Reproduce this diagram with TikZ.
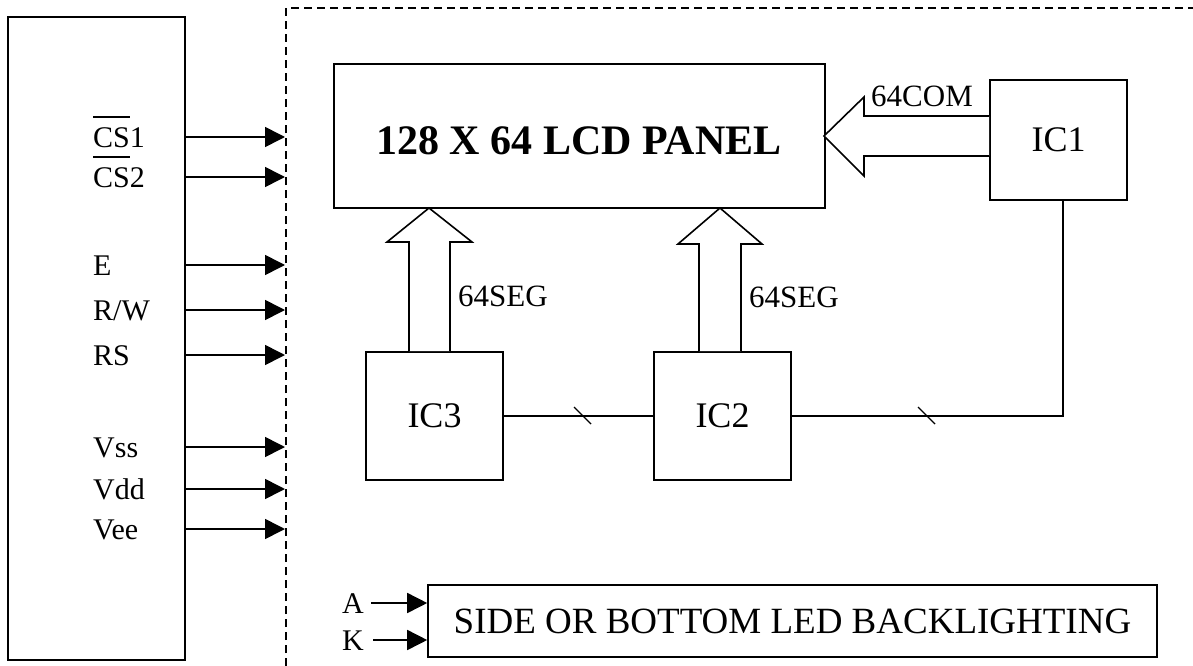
\documentclass[tikz,border=0pt]{standalone}
\usepackage{fontspec}
\setmainfont{Liberation Serif}
\usetikzlibrary{arrows.meta}
\newlength\olw
\newcommand\olbar[1]{\settowidth\olw{#1}\rlap{\rule[0.98em]{\olw}{0.06em}}#1}
\tikzset{
  box/.style={draw, line width=1.6pt, inner sep=0pt, rectangle},
  sig/.style={line width=1.6pt, -{Triangle[length=20pt,width=20pt]}},
  siglabel/.style={anchor=base west, inner sep=0pt, font=\fontsize{30}{36}\selectfont},
  fat/.style={draw, line width=1.6pt, fill=white, line join=miter},
  bus/.style={line width=1.6pt},
}
\begin{document}
\begin{tikzpicture}[x=1pt,y=-1pt]
\useasboundingbox (0,0) rectangle (1193,666);
% host box
\node[box, minimum width=177pt, minimum height=643pt] (host) at (96.5,338.5) {};
% dashed module border
\coordinate (dtop) at (286,8);
\coordinate (dbot) at (286,666);
\coordinate (dright) at (1193,8);
\draw[line width=1.6pt, dash pattern=on 8pt off 5pt] (dbot) -- (dtop) -- (dright);
% signals
\foreach \n/\y/\t in {cs1/137/{\olbar{CS}1}, cs2/177/{\olbar{CS}2}, e/265/E, rw/310/{R/W}, rs/355/RS, vss/447/Vss, vdd/489/Vdd, vee/529/Vee}{
  \node[siglabel] (l\n) at (93,\y+10) {\t};
  \coordinate (s\n) at (185,\y);
  \coordinate (t\n) at (285,\y);
  \draw[sig] (s\n) -- (t\n);
}
% LCD panel
\node[box, minimum width=491pt, minimum height=144pt] (lcd) at (579.5,136) {};
\node[inner sep=0pt, font=\fontsize{42}{48}\selectfont\bfseries] (lcdt) at (579,141) {128 X 64 LCD PANEL};
% ICs
\node[box, minimum width=137pt, minimum height=120pt, font=\fontsize{36}{42}\selectfont] (ic1) at (1058.5,140) {IC1};
\node[box, minimum width=137pt, minimum height=128pt, font=\fontsize{36}{42}\selectfont] (ic3) at (434.5,416) {IC3};
\node[box, minimum width=137pt, minimum height=128pt, font=\fontsize{36}{42}\selectfont] (ic2) at (722.5,416) {IC2};
% fat arrows 64SEG
\draw[fat] (409,351) -- (409,242) -- (387,242) -- (429,208) -- (472,242) -- (450,242) -- (450,351);
\draw[fat] (699,351) -- (699,244) -- (678,244) -- (720,208) -- (762,244) -- (741,244) -- (741,351);
\node[anchor=west, inner sep=0pt, font=\fontsize{31}{36}\selectfont] (seg1) at (458,296) {64SEG};
\node[anchor=west, inner sep=0pt, font=\fontsize{31}{36}\selectfont] (seg2) at (749,297) {64SEG};
% fat arrow 64COM
\draw[fat] (989,116) -- (864,116) -- (864,97) -- (824,136) -- (864,176) -- (864,156) -- (989,156);
\node[anchor=west, inner sep=0pt, font=\fontsize{31}{36}\selectfont] (com) at (871,96) {64COM};
% buses
\draw[bus] (ic3.east) -- (ic2.west);
\draw[bus] (ic2.east) -- (1063,416) -- (ic1.south -| 1063,0);
\draw[line width=1.4pt] (574,407) -- (591,424);
\draw[line width=1.4pt] (918,407) -- (935,424);
% backlight
\node[box, minimum width=729pt, minimum height=72pt, font=\fontsize{37}{42}\selectfont] (bl) at (792.5,621) {SIDE OR BOTTOM LED BACKLIGHTING};
\node[siglabel, anchor=base east] (la) at (364,613) {A};
\node[siglabel, anchor=base east] (lk) at (364,650) {K};
\coordinate (sa) at (371,603);
\coordinate (sk) at (373,640);
\draw[sig] (sa) -- (bl.west |- sa);
\draw[sig] (sk) -- (bl.west |- sk);
\end{tikzpicture}
\end{document}
